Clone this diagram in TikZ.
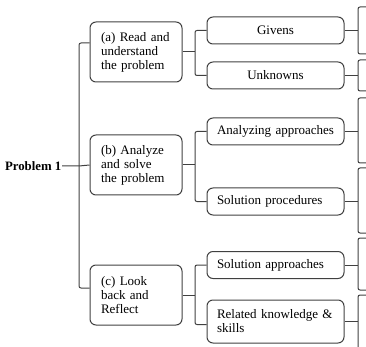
\documentclass[tikz,border=0pt]{standalone}
\usepackage{fontspec}
\setmainfont{Liberation Serif}
\begin{document}
\begin{tikzpicture}[x=1pt,y=-1pt,
  conn/.style={draw=black!75, line width=1pt},
  box/.style={draw=black!75, line width=1pt, rounded corners=6pt, font=\fontsize{13}{14}\selectfont, inner sep=0pt},
  bigbox/.style={box, minimum width=92pt, minimum height=60pt, text width=70pt, align=left},
  sbox/.style={box, minimum width=137pt, minimum height=27pt, text width=117pt, align=center},
  lbox/.style={sbox, align=left}]
\useasboundingbox (0,0) rectangle (366,347);
\clip (0,0) rectangle (366,347);
% top level
\node[anchor=east, inner sep=0.5pt, font=\fontsize{12.8}{14}\selectfont\bfseries] (P) at (62,166) {Problem 1};
\node[bigbox] (a) at (136,52) {(a) Read and\\understand\\the problem};
\node[bigbox] (b) at (136,165) {(b) Analyze\\and solve\\the problem};
\node[bigbox] (c) at (136,295) {(c) Look\\back and\\Reflect};
% second level
\node[sbox] (g) at (275.5,30.5) {Givens};
\node[sbox] (u) at (275.5,75.5) {Unknowns};
\node[sbox] (an) at (275.5,131.5) {Analyzing approaches};
\node[lbox] (sp) at (275.5,201.5) {Solution procedures};
\node[lbox] (sa) at (275.5,265) {Solution approaches};
\node[lbox, minimum height=43pt] (rk) at (275.5,321.5) {Related knowledge \&\\skills};
% left bracket
\coordinate (L) at (79,166);
\draw[conn] (P.east) -- (L) -- (b.west);
\draw[conn, rounded corners=2pt] ([yshift=9pt]a.west) -| (L) |- ([yshift=7pt]c.west);
% middle brackets
\coordinate (Ma) at (195,52);
\coordinate (Mb) at (195,165);
\coordinate (Mc) at (195,295);
\draw[conn] (a.east) -- (Ma);
\draw[conn, rounded corners=2pt] (g.west) -| (Ma) |- (u.west);
\draw[conn] (b.east) -- (Mb);
\draw[conn, rounded corners=2pt] (an.west) -| (Mb) |- (sp.west);
\draw[conn] (c.east) -- (Mc);
\draw[conn, rounded corners=2pt] (sa.west) -| (Mc) |- ([yshift=-3pt]rk.west);
% right brackets
\coordinate (rx) at (358,0);
\newcommand\rbr[3]{%
  \coordinate (#1T) at (372,#2);
  \coordinate (#1B) at (372,#3);
  \draw[conn] (#1.east) -- (#1.east -| rx);
  \draw[conn, rounded corners=2pt] (#1T) -| (rx |- #1B) -- (#1B);
}
\rbr{g}{7}{54}
\rbr{u}{60}{91}
\rbr{an}{98}{163}
\rbr{sp}{168}{233}
\rbr{sa}{238}{290}
\rbr{rk}{295}{365}
\end{tikzpicture}
\end{document}
